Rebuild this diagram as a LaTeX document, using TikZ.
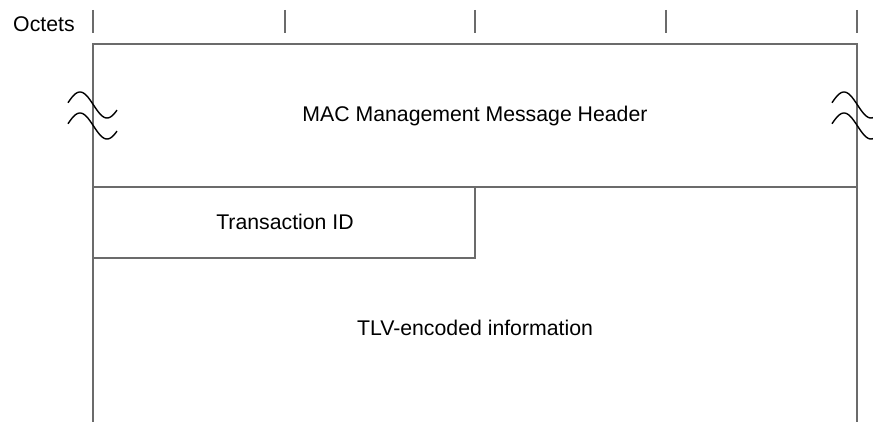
\documentclass[tikz,border=0pt]{standalone}
\usepackage{fontspec}
\setsansfont{Liberation Sans}
\usetikzlibrary{positioning, calc}
\definecolor{cline}{HTML}{6B6B6B}
\tikzset{
  every picture/.style={font=\sffamily\fontsize{12.1pt}{14pt}\selectfont, x=0.02cm, y=-0.02cm},
  rule/.style={draw=cline, line width=0.9pt},
  wave/.style={draw=black, line width=0.8pt},
  label/.style={inner sep=0pt, align=center},
}
\begin{document}
\begin{tikzpicture}
  \useasboundingbox (0,0) rectangle (873,422);
  % octet ruler
  \node[label, anchor=east] (oct) at (75,24) {Octets};
  \foreach \t in {93, 285, 475, 666, 857}
    \draw[rule] (\t,10) -- (\t,33);
  % frame
  \draw[rule] (93,422) -- (93,44) -- (857,44) -- (857,422);
  \draw[rule] (93,187) -- (857,187);
  \draw[rule] (93,258) -- (475,258) -- (475,187);
  % break marks
  \foreach \dx in {0, 764}
    \foreach \dy in {0, 21}
      \draw[wave] plot[domain=68:117, samples=40, smooth]
        ({\x+\dx}, {105+\dy-13*cos((\x-80)*180/27)});
  % fields
  \node[label] (hdr) at (475,116) {MAC Management Message Header};
  \node[label] (tid) at (285,222) {Transaction ID};
  \node[label] (tlv) at (475,328) {TLV-encoded information};
\end{tikzpicture}
\end{document}
